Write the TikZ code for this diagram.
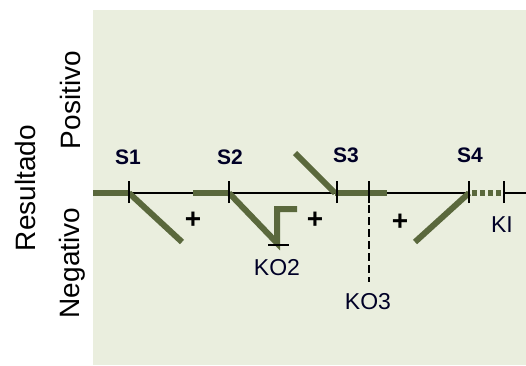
\documentclass[tikz,border=0pt]{standalone}
\usepackage{fontspec}
\setmainfont{Liberation Sans}
\begin{document}
\begin{tikzpicture}[x=1pt,y=-1pt,
  thick green/.style={draw=myg,line width=6pt},
  thin axis/.style={draw=black,line width=1.4pt},
  tickmark/.style={draw=black,line width=1.4pt},
  slabel/.style={font=\fontsize{21}{23}\selectfont\bfseries,inner sep=0pt,text=black!85!blue},
  klabel/.style={font=\fontsize{23}{25}\selectfont,inner sep=0pt,text=black!85!blue},
  plabel/.style={font=\fontsize{28}{30}\selectfont\bfseries,inner sep=0pt},
  rlabel/.style={font=\fontsize{28}{30}\selectfont,inner sep=0pt,rotate=90,anchor=base}]
\definecolor{myg}{RGB}{90,104,60}
\definecolor{mybg}{RGB}{234,238,222}
\useasboundingbox (0,0) rectangle (526,365);
\fill[white] (0,0) rectangle (526,365);
\fill[mybg] (93,10) rectangle (526,365);
% rotated labels
\node[rlabel] (res) at (35,188) {Resultado};
\node[rlabel] (pos) at (80,100) {Positivo};
\node[rlabel] (neg) at (79,263) {Negativo};
% axis coordinates
\coordinate (L) at (93,193);
\coordinate (t1) at (129,193);
\coordinate (g2) at (193,193);
\coordinate (t2) at (229,193);
\coordinate (s3a) at (335,193);
\coordinate (t3) at (337,193);
\coordinate (tk) at (369,193);
\coordinate (g3e) at (387,193);
\coordinate (t4) at (469,193);
\coordinate (t5) at (504,193);
\coordinate (R) at (526,193);
% thin axis pieces
\draw[thin axis] (t1) -- (g2);
\draw[thin axis] (t2) -- (s3a);
\draw[thin axis] (g3e) -- (t4);
\draw[thin axis] (t5) -- (R);
% thick green on axis
\draw[thick green] (L) -- (t1);
\draw[thick green] (g2) -- (t2);
\draw[thick green] (s3a) -- (g3e);
\draw[draw=myg,line width=6pt,dash pattern=on 5pt off 3pt] ([xshift=3pt]t4) -- ([xshift=-1pt]t5);
% branches
\coordinate (e1) at (182,242);
\draw[thick green] (t1) -- (e1);
\coordinate (e2) at (277,243);
\coordinate (e2u) at (277,209);
\coordinate (e2r) at (297,209);
\draw[thick green,line join=miter] (t2) -- (e2) -- (e2u) -- (e2r);
\coordinate (b1) at (268,245);
\coordinate (b2) at (289,245);
\draw[thin axis] (b1) -- (b2);
\coordinate (e3) at (295,153);
\draw[thick green] (e3) -- (s3a);
\coordinate (e4) at (415,242);
\draw[thick green] (t4) -- (e4);
% dashed KO3
\coordinate (kd) at (369,282);
\draw[black,line width=1.3pt,dash pattern=on 8pt off 4pt] (tk) -- (kd);
% ticks
\foreach \t in {t1,t2,t3,tk,t4,t5}{
  \draw[tickmark] ([yshift=-10pt]\t) -- ([yshift=12pt]\t);
}
% labels
\node[slabel] (S1) at (128,157) {S1};
\node[slabel] (S2) at (230,157) {S2};
\node[slabel] (S3) at (346,155) {S3};
\node[slabel] (S4) at (470,155) {S4};
\node[plabel] (p1) at (193,220) {+};
\node[plabel] (p2) at (315,220) {+};
\node[plabel] (p3) at (400,222) {+};
\node[klabel] (KO2) at (277,268) {KO2};
\node[klabel] (KO3) at (368,302) {KO3};
\node[klabel] (KI) at (502,225) {KI};
\end{tikzpicture}
\end{document}
